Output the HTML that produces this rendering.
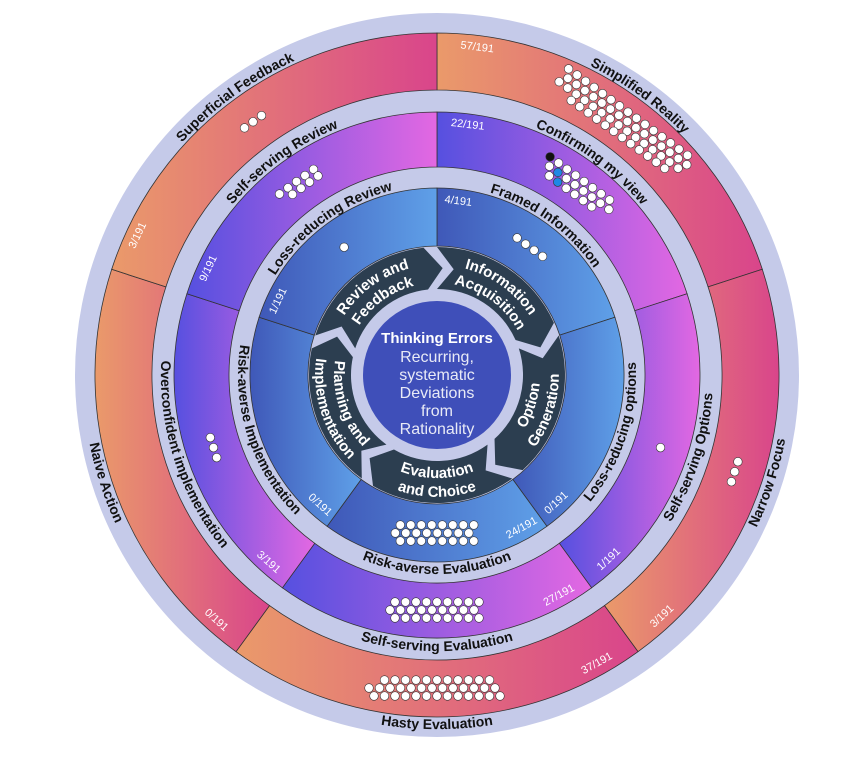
<!DOCTYPE html>
<html><head><meta charset="utf-8"><style>
html,body{margin:0;padding:0;background:#fff;}
svg{display:block;}
.lb{font-family:"Liberation Sans",sans-serif;font-weight:bold;font-size:14px;fill:#111;}
.dk{font-family:"Liberation Sans",sans-serif;font-weight:bold;font-size:15px;fill:#fff;}
.nm{font-family:"Liberation Sans",sans-serif;font-size:11px;fill:#fff;text-anchor:middle;dominant-baseline:central;}
.sec{stroke:#333;stroke-width:0.8;}
</style></head><body>
<svg id="s" width="868" height="761" viewBox="0 0 868 761" xmlns="http://www.w3.org/2000/svg">
<defs>
<linearGradient id="go" x1="0" y1="0" x2="1" y2="0"><stop offset="0" stop-color="#ea9a6a"/><stop offset="1" stop-color="#d9458b"/></linearGradient>
<linearGradient id="gm" x1="0" y1="0" x2="1" y2="0"><stop offset="0" stop-color="#5650e0"/><stop offset="1" stop-color="#e368e2"/></linearGradient>
<linearGradient id="gi" x1="0" y1="0" x2="1" y2="0"><stop offset="0" stop-color="#3f58b8"/><stop offset="1" stop-color="#5fa0e8"/></linearGradient>
<path id="cw345" d="M 112.8 257.0 A 345 345 0 0 1 761.2 257.0" fill="none"/>
<path id="cw266" d="M 187.0 284.0 A 266 266 0 0 1 687.0 284.0" fill="none"/>
<path id="cw190" d="M 258.5 310.0 A 190 190 0 0 1 615.5 310.0" fill="none"/>
<path id="cc354" d="M 104.3 496.1 A 354 354 0 0 0 769.7 496.1" fill="none"/>
<path id="cc276" d="M 177.6 469.4 A 276 276 0 0 0 696.4 469.4" fill="none"/>
<path id="cc199" d="M 250.0 443.1 A 199 199 0 0 0 624.0 443.1" fill="none"/>
<path id="cw110" d="M 333.6 337.4 A 110 110 0 0 1 540.4 337.4" fill="none"/>
<path id="cw92" d="M 350.5 343.5 A 92 92 0 0 1 523.5 343.5" fill="none"/>
<path id="cc103" d="M 340.2 410.2 A 103 103 0 0 0 533.8 410.2" fill="none"/>
<path id="cc122" d="M 322.4 416.7 A 122 122 0 0 0 551.6 416.7" fill="none"/>
<path id="arr" d="M 443.7 247.2 A 128 128 0 0 1 556.5 329.1 L 541.7 352.8 L 517.3 344.2 A 86 86 0 0 0 441.5 289.1 L 459.2 270.3 Z" fill="#2c3e50"/>
</defs>
<circle cx="437" cy="375" r="362" fill="#c5cae9"/>
<path class="sec" fill="url(#go)" d="M437 33 A342 342 0 0 1 762.3 269.3 L708.1 286.9 A285 285 0 0 0 437 90 Z"/>
<path class="sec" fill="url(#go)" d="M762.3 269.3 A342 342 0 0 1 638.0 651.7 L604.5 605.6 A285 285 0 0 0 708.1 286.9 Z"/>
<path class="sec" fill="url(#go)" d="M638.0 651.7 A342 342 0 0 1 236.0 651.7 L269.5 605.6 A285 285 0 0 0 604.5 605.6 Z"/>
<path class="sec" fill="url(#go)" d="M236.0 651.7 A342 342 0 0 1 111.7 269.3 L165.9 286.9 A285 285 0 0 0 269.5 605.6 Z"/>
<path class="sec" fill="url(#go)" d="M111.7 269.3 A342 342 0 0 1 437 33 L437 90 A285 285 0 0 0 165.9 286.9 Z"/>
<path class="sec" fill="url(#gm)" d="M437 112 A263 263 0 0 1 687.1 293.7 L634.8 310.7 A208 208 0 0 0 437 167 Z"/>
<path class="sec" fill="url(#gm)" d="M687.1 293.7 A263 263 0 0 1 591.6 587.8 L559.3 543.3 A208 208 0 0 0 634.8 310.7 Z"/>
<path class="sec" fill="url(#gm)" d="M591.6 587.8 A263 263 0 0 1 282.4 587.8 L314.7 543.3 A208 208 0 0 0 559.3 543.3 Z"/>
<path class="sec" fill="url(#gm)" d="M282.4 587.8 A263 263 0 0 1 186.9 293.7 L239.2 310.7 A208 208 0 0 0 314.7 543.3 Z"/>
<path class="sec" fill="url(#gm)" d="M186.9 293.7 A263 263 0 0 1 437 112 L437 167 A208 208 0 0 0 239.2 310.7 Z"/>
<path class="sec" fill="url(#gi)" d="M437 188 A187 187 0 0 1 614.9 317.2 L559.7 335.1 A129 129 0 0 0 437 246 Z"/>
<path class="sec" fill="url(#gi)" d="M614.9 317.2 A187 187 0 0 1 546.9 526.3 L512.8 479.4 A129 129 0 0 0 559.7 335.1 Z"/>
<path class="sec" fill="url(#gi)" d="M546.9 526.3 A187 187 0 0 1 327.1 526.3 L361.2 479.4 A129 129 0 0 0 512.8 479.4 Z"/>
<path class="sec" fill="url(#gi)" d="M327.1 526.3 A187 187 0 0 1 259.1 317.2 L314.3 335.1 A129 129 0 0 0 361.2 479.4 Z"/>
<path class="sec" fill="url(#gi)" d="M259.1 317.2 A187 187 0 0 1 437 188 L437 246 A129 129 0 0 0 314.3 335.1 Z"/>
<circle cx="437" cy="375" r="128" fill="#c5cae9"/>
<g transform="rotate(-3 437 375)">
<use href="#arr"/>
<use href="#arr" transform="rotate(72 437 375)"/>
<use href="#arr" transform="rotate(144 437 375)"/>
<use href="#arr" transform="rotate(216 437 375)"/>
<use href="#arr" transform="rotate(288 437 375)"/>
</g>
<circle cx="437" cy="375" r="74" fill="#3f4fb9"/>
<g id="dots"></g>
<g transform="rotate(36 437 375)"><text class="lb"><textPath href="#cw345" startOffset="50%" text-anchor="middle">Simplified Reality</textPath></text>
<text class="lb"><textPath href="#cw266" startOffset="50%" text-anchor="middle">Confirming my view</textPath></text>
<text class="lb"><textPath href="#cw190" startOffset="50%" text-anchor="middle">Framed Information</textPath></text>
<text class="dk"><textPath href="#cw110" startOffset="50%" text-anchor="middle">Information</textPath></text>
<text class="dk"><textPath href="#cw92" startOffset="50%" text-anchor="middle">Acquisition</textPath></text></g>
<g transform="rotate(-36 437 375)"><text class="lb"><textPath href="#cw345" startOffset="50%" text-anchor="middle">Superficial Feedback</textPath></text>
<text class="lb"><textPath href="#cw266" startOffset="50%" text-anchor="middle">Self-serving Review</textPath></text>
<text class="lb"><textPath href="#cw190" startOffset="50%" text-anchor="middle">Loss-reducing Review</textPath></text>
<text class="dk"><textPath href="#cw110" startOffset="50%" text-anchor="middle">Review and</textPath></text>
<text class="dk"><textPath href="#cw92" startOffset="50%" text-anchor="middle">Feedback</textPath></text></g>
<g transform="rotate(-72 437 375)"><text class="lb"><textPath href="#cc354" startOffset="50%" text-anchor="middle">Narrow Focus</textPath></text>
<text class="lb"><textPath href="#cc276" startOffset="50%" text-anchor="middle">Self-serving Options</textPath></text>
<text class="lb"><textPath href="#cc199" startOffset="50%" text-anchor="middle">Loss-reducing options</textPath></text>
<text class="dk"><textPath href="#cc103" startOffset="50%" text-anchor="middle">Option</textPath></text>
<text class="dk"><textPath href="#cc122" startOffset="50%" text-anchor="middle">Generation</textPath></text></g>
<g><text class="lb"><textPath href="#cc354" startOffset="50%" text-anchor="middle">Hasty Evaluation</textPath></text>
<text class="lb"><textPath href="#cc276" startOffset="50%" text-anchor="middle">Self-serving Evaluation</textPath></text>
<text class="lb"><textPath href="#cc199" startOffset="50%" text-anchor="middle">Risk-averse Evaluation</textPath></text>
<text class="dk"><textPath href="#cc103" startOffset="50%" text-anchor="middle">Evaluation</textPath></text>
<text class="dk"><textPath href="#cc122" startOffset="50%" text-anchor="middle">and Choice</textPath></text></g>
<g transform="rotate(72 437 375)"><text class="lb"><textPath href="#cc354" startOffset="50%" text-anchor="middle">Naive Action</textPath></text>
<text class="lb"><textPath href="#cc276" startOffset="50%" text-anchor="middle">Overconfident implementation</textPath></text>
<text class="lb"><textPath href="#cc199" startOffset="50%" text-anchor="middle">Risk-averse Implementation</textPath></text>
<text class="dk"><textPath href="#cc103" startOffset="50%" text-anchor="middle">Planning and</textPath></text>
<text class="dk"><textPath href="#cc122" startOffset="50%" text-anchor="middle">Implementation</textPath></text></g>
<text class="nm" transform="translate(477.2 47.5) rotate(7)">57/191</text>
<text class="nm" transform="translate(467.7 124.9) rotate(7)">22/191</text>
<text class="nm" transform="translate(458.3 201.3) rotate(7)">4/191</text>
<text class="nm" transform="translate(662.1 616.4) rotate(-43)">3/191</text>
<text class="nm" transform="translate(608.9 559.3) rotate(-43)">1/191</text>
<text class="nm" transform="translate(556.4 503.0) rotate(-43)">0/191</text>
<text class="nm" transform="translate(597.0 663.6) rotate(-29)">37/191</text>
<text class="nm" transform="translate(559.2 595.4) rotate(-29)">27/191</text>
<text class="nm" transform="translate(521.8 528.1) rotate(-29)">24/191</text>
<text class="nm" transform="translate(216.2 620.2) rotate(42)">0/191</text>
<text class="nm" transform="translate(268.4 562.3) rotate(42)">3/191</text>
<text class="nm" transform="translate(319.9 505.0) rotate(42)">0/191</text>
<text class="nm" transform="translate(137.9 235.5) rotate(-65)">3/191</text>
<text class="nm" transform="translate(208.6 268.5) rotate(-65)">9/191</text>
<text class="nm" transform="translate(278.4 301.0) rotate(-65)">1/191</text>
<g font-family="Liberation Sans, sans-serif" text-anchor="middle" fill="#e8eaf6">
<text x="437" y="343" font-weight="bold" font-size="15" fill="#fff">Thinking Errors</text>
<text x="437" y="362" font-size="16">Recurring,</text>
<text x="437" y="380" font-size="16">systematic</text>
<text x="437" y="398" font-size="16">Deviations</text>
<text x="437" y="416" font-size="16">from</text>
<text x="437" y="434" font-size="16">Rationality</text>
</g>
</svg>
<script>
(function(){
var segs=[[36,313,57],[108,313,3],[180,313,37],[252,313,0],[324,313,3],[36,235,22],[108,235,1],[180,235,27],[252,235,3],[324,235,9],[36,158,4],[108,158,0],[180,158,24],[252,158,0],[324,158,1]];
var g=document.getElementById('dots'),ns='http://www.w3.org/2000/svg';
segs.forEach(function(s,si){
 var th=s[0]*Math.PI/180,r=s[1],n=s[2];if(!n)return;
 var rows=n<=4?1:n<=14?2:n<=40?3:4;
 var cx=437+r*Math.sin(th),cy=375-r*Math.cos(th);
 var tx=Math.cos(th),ty=Math.sin(th),nx=Math.sin(th),ny=-Math.cos(th);
 var per=Math.ceil(n/rows),k=0;
 for(var ri=0;ri<rows;ri++){
  var cnt=Math.min(per,n-k);if(cnt<=0)break;
  var v=((rows-1)/2-ri)*8;
  for(var j=0;j<cnt;j++){
   var u=(j-(cnt-1)/2)*10.5+(ri%2?5:0);
   var c=document.createElementNS(ns,'circle');
   c.setAttribute('cx',(cx+u*tx+v*nx).toFixed(1));
   c.setAttribute('cy',(cy+u*ty+v*ny).toFixed(1));
   c.setAttribute('r','4.3');
   var f='#fff';
   if(si==5){if(k==0)f='#111';if(k==9||k==17)f='#1e88e5';}
   c.setAttribute('fill',f);c.setAttribute('stroke','#333');c.setAttribute('stroke-width','0.6');
   g.appendChild(c);k++;
  }
 }
});
})();
</script>
</body></html>
